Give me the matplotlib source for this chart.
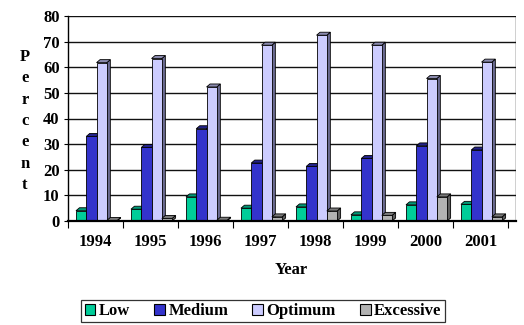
import matplotlib
matplotlib.use("Agg")
import matplotlib.pyplot as plt
from matplotlib.patches import Polygon, Patch

years = ["1994", "1995", "1996", "1997", "1998", "1999", "2000", "2001"]
low = [4, 4.6, 9.4, 5, 5.5, 2.4, 6.3, 6.5]
medium = [33, 28.7, 36, 22.6, 21.3, 24.4, 29.3, 27.7]
optimum = [61.8, 63.4, 52.3, 68.6, 72.5, 68.6, 55.6, 62]
excessive = [0.2, 1.0, 0.3, 1.6, 3.9, 2.2, 9.4, 1.6]

series = [
    ("Low", low, "#00CC99", "#009977", "#006A50"),
    ("Medium", medium, "#3333CC", "#22228A", "#1C1C70"),
    ("Optimum", optimum, "#CCCCFF", "#8A8AAE", "#6C6C94"),
    ("Excessive", excessive, "#B2B2B2", "#7A7A7A", "#5E5E5E"),
]

plt.rcParams["font.family"] = ["Liberation Serif", "DejaVu Serif"]
plt.rcParams["font.weight"] = "bold"
FS = 12

fig = plt.figure(figsize=(5.24, 3.25), dpi=100)
ax = fig.add_axes([68 / 524, 1 - 221 / 325, 448 / 524, 205 / 325])

n = len(years)
xmax = n - 0.5 + 8 / 55
ax.set_xlim(-0.5, xmax)
ax.set_ylim(0, 80)

# pseudo-3D depth
dx = 3.5 / 55
dy = 3.0 / (205 / 80)
w = 0.187
start = -0.355

# back-wall gridlines and frame
for g in range(10, 81, 10):
    ax.plot([-0.5, xmax], [g, g], color="#111111", lw=1.0, zorder=1)
ax.plot([xmax, xmax], [0, 80], color="#111111", lw=1.0, zorder=1)

for i in range(n):
    for k, (name, vals, fc, tc, sc) in enumerate(series):
        v = vals[i]
        x0 = i + start + k * w
        side = Polygon([(x0 + w, 0), (x0 + w + dx, dy), (x0 + w + dx, v + dy), (x0 + w, v)],
                       closed=True, facecolor=sc, edgecolor="black", lw=0.6, zorder=3 + i * 10 + k * 2)
        top = Polygon([(x0, v), (x0 + w, v), (x0 + w + dx, v + dy), (x0 + dx, v + dy)],
                      closed=True, facecolor=tc, edgecolor="black", lw=0.6, zorder=3 + i * 10 + k * 2)
        front = Polygon([(x0, 0), (x0 + w, 0), (x0 + w, v), (x0, v)],
                        closed=True, facecolor=fc, edgecolor="black", lw=0.6, zorder=4 + i * 10 + k * 2)
        ax.add_patch(side)
        ax.add_patch(top)
        ax.add_patch(front)

for s in ["top", "right"]:
    ax.spines[s].set_visible(False)
ax.spines["left"].set_linewidth(1.0)
ax.spines["bottom"].set_linewidth(1.6)
ax.spines["bottom"].set_zorder(200)

ax.set_yticks(range(0, 81, 10))
ax.set_yticklabels([str(t) for t in range(0, 81, 10)], fontsize=FS, fontweight="bold")
ax.set_xticks(range(n))
ax.set_xticklabels(years, fontsize=FS, fontweight="bold")
ax.tick_params(axis="x", length=0, pad=9)
ax.tick_params(axis="y", length=3, width=0.8, pad=3)
# category separator ticks
ax.set_xticks([i - 0.5 for i in range(n + 1)], minor=True)
ax.tick_params(axis="x", which="minor", length=5, width=0.8, direction="out")

fig.text(25 / 524, 1 - 121 / 325, "P\ne\nr\nc\ne\nn\nt", ha="center", va="center",
         fontsize=FS, fontweight="bold", linespacing=1.45)
fig.text(291 / 524, 1 - 270 / 325, "Year", ha="center", va="center",
         fontsize=FS, fontweight="bold")

handles = [Patch(facecolor=fc, edgecolor="black", lw=0.8, label=name)
           for name, vals, fc, tc, sc in series]
leg = fig.legend(handles=handles, loc="center", bbox_to_anchor=(263 / 524, 1 - 311 / 325),
                 ncol=4, frameon=True, fancybox=False, edgecolor="black",
                 prop={"size": FS, "weight": "bold"}, handlelength=0.65, handleheight=0.65,
                 handletextpad=0.2, columnspacing=1.45, borderpad=0.2, borderaxespad=0)
leg.get_frame().set_linewidth(0.9)

fig.savefig("out.png", dpi=100)
